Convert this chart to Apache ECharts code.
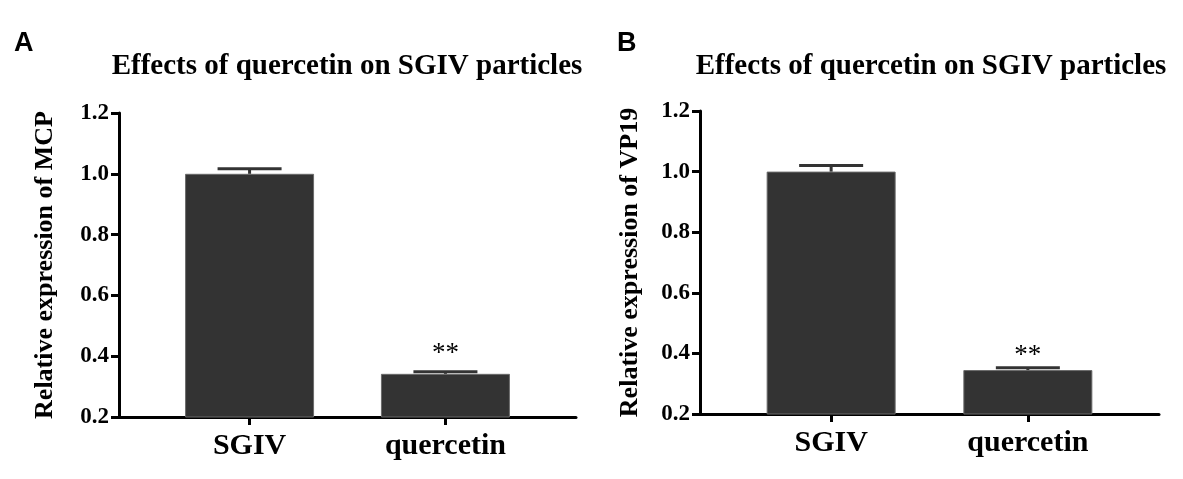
<!DOCTYPE html>
<html>
<head>
<meta charset="utf-8">
<script src="https://cdn.jsdelivr.net/npm/echarts@6/dist/echarts.min.js"></script>
<style>
  html, body { margin: 0; padding: 0; background: #fff; }
  #chart { width: 1183px; height: 479px; }
</style>
</head>
<body>
<div id="chart"></div>
<script>
// ===== data =====
const panelLetters = ['A', 'B'];
const chartTitle = 'Effects of quercetin on SGIV particles';
const groups = ['SGIV', 'quercetin'];
const yNames = ['Relative expression of MCP', 'Relative expression of VP19'];
const mcpMean = [1.0, 0.342];
const mcpErr = [0.017, 0.007];
const vp19Mean = [1.0, 0.345];
const vp19Err = [0.020, 0.008];
const sigMarks = ['', '**'];
const yMin = 0.2, yMax = 1.2, yStep = 0.2;

// ===== layout (not data) =====
const SERIF = "'Liberation Serif', 'Times New Roman', serif";
const SLOT_COUNT = 8;          // the bars sit on slot 2 and 5 of an 8-slot axis
const slots = [2, 5];
const panels = [
    { grid: { left: 119, top: 113, width: 457, height: 304 }, titleX: 342, letterX: 9, nameGap: 61, starGap: 18,
      mean: mcpMean, err: mcpErr },
    { grid: { left: 700, top: 111, width: 459, height: 303 }, titleX: 926, letterX: 612, nameGap: 57, starGap: 12,
      mean: vp19Mean, err: vp19Err }
];

function padSlots(arr, fill) {
    const out = new Array(SLOT_COUNT).fill(fill);
    slots.forEach((s, i) => { out[s] = arr[i]; });
    return out;
}

const chart = echarts.init(document.getElementById('chart'), null, { renderer: 'canvas' });

const option = {
    animation: false,
    backgroundColor: '#fff',
    title: [],
    grid: [],
    xAxis: [],
    yAxis: [],
    series: []
};

panels.forEach((p, k) => {
    // panel letter
    option.title.push({
        text: panelLetters[k], left: p.letterX, top: 25,
        textStyle: { fontFamily: "'Liberation Sans', Arial, sans-serif", fontWeight: 'bold', fontSize: 27, color: '#000' }
    });
    // panel title
    option.title.push({
        text: chartTitle, left: p.titleX, top: 47, textAlign: 'center',
        textStyle: { fontFamily: SERIF, fontWeight: 'bold', fontSize: 29, color: '#000' }
    });

    option.grid.push(Object.assign({ containLabel: false }, p.grid));

    option.xAxis.push({
        type: 'category',
        gridIndex: k,
        boundaryGap: false,
        data: padSlots(groups, ''),
        axisLine: { lineStyle: { color: '#000', width: 3 } },
        axisTick: { length: 8, interval: (i, v) => v !== '', lineStyle: { color: '#000', width: 3 } },
        axisLabel: { interval: 0, margin: 14, color: '#000', fontFamily: SERIF, fontWeight: 'bold', fontSize: 30 },
        splitLine: { show: false }
    });

    option.yAxis.push({
        type: 'value',
        gridIndex: k,
        min: yMin, max: yMax, interval: yStep,
        name: yNames[k],
        nameLocation: 'middle',
        nameRotate: 90,
        nameGap: p.nameGap,
        nameTextStyle: { fontFamily: SERIF, fontWeight: 'bold', fontSize: 26, color: '#000' },
        axisLine: { show: true, lineStyle: { color: '#000', width: 3 } },
        axisTick: { show: true, length: 8, lineStyle: { color: '#000', width: 3 } },
        axisLabel: { margin: 10, color: '#000', fontFamily: SERIF, fontWeight: 'bold', fontSize: 23,
                     formatter: v => v.toFixed(1) },
        splitLine: { show: false }
    });

    option.series.push({
        type: 'bar',
        xAxisIndex: k, yAxisIndex: k,
        data: padSlots(p.mean, '-'),
        barWidth: 129,
        itemStyle: { color: '#333333', borderColor: '#6a6a6a', borderWidth: 1 },
        z: 2
    });

    // error bars (upper only) + significance marks
    option.series.push({
        type: 'custom',
        xAxisIndex: k, yAxisIndex: k,
        data: groups.map((g, i) => [slots[i], p.mean[i], p.err[i]]),
        z: 5,
        renderItem: (params, api) => {
            const x = api.value(0), m = api.value(1), e = api.value(2);
            const base = api.coord([x, m]);
            const top = api.coord([x, m + e]);
            const half = 32;
            const children = [
                { type: 'line', shape: { x1: base[0], y1: base[1], x2: top[0], y2: top[1] },
                  style: { stroke: '#333', lineWidth: 3 } },
                { type: 'line', shape: { x1: top[0] - half, y1: top[1], x2: top[0] + half, y2: top[1] },
                  style: { stroke: '#333', lineWidth: 3 } }
            ];
            const mark = sigMarks[params.dataIndex];
            if (mark) {
                children.push({
                    type: 'text',
                    style: { text: mark, x: top[0], y: top[1] - p.starGap, align: 'center', verticalAlign: 'middle',
                             fill: '#000', font: "27px 'Liberation Serif', 'Times New Roman', serif" }
                });
            }
            return { type: 'group', children };
        }
    });
});

chart.setOption(option);
window.addEventListener('resize', () => chart.resize());
</script>
</body>
</html>
